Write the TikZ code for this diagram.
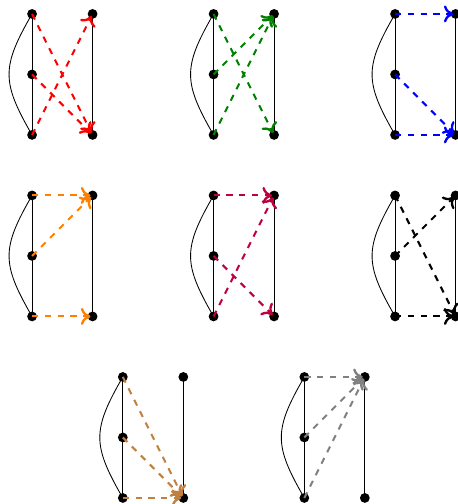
\documentclass[tikz,border=0pt]{standalone}
\usetikzlibrary{arrows.meta}
\begin{document}
\begin{tikzpicture}[
  dot/.style={circle,fill=black,inner sep=0pt,minimum size=4.6pt},
  arc/.style={line width=0.95pt,dashed,-{To[length=4.5pt,width=8pt,line width=1.1pt]},shorten >=1pt},
]
\useasboundingbox (-0.53,0.23) rectangle (7.03,-8.1);
\newcommand\mkpanel[3]{%
  \node[dot] (#1a) at (#2,#3) {};
  \node[dot] (#1b) at (#2,#3-1) {};
  \node[dot] (#1c) at (#2,#3-2) {};
  \node[dot] (#1d) at (#2+1,#3) {};
  \node[dot] (#1e) at (#2+1,#3-2) {};
  \draw (#1a.center) -- (#1b.center) -- (#1c.center);
  \draw (#1d.center) -- (#1e.center);
  \draw (#1a.center) to[bend right=30,looseness=1.3] (#1c.center);
}
\mkpanel{p}{0}{0}
\mkpanel{q}{3}{0}
\mkpanel{r}{6}{0}
\mkpanel{s}{0}{-3}
\mkpanel{t}{3}{-3}
\mkpanel{u}{6}{-3}
\mkpanel{v}{1.5}{-6}
\mkpanel{w}{4.5}{-6}
% panel 1 red
\draw[arc,red] (pa.center) -- (pe.center);
\draw[arc,red] (pb.center) -- (pe.center);
\draw[arc,red] (pc.center) -- (pd.center);
% panel 2 green
\draw[arc,green!50!black] (qa.center) -- (qe.center);
\draw[arc,green!50!black] (qb.center) -- (qd.center);
\draw[arc,green!50!black] (qc.center) -- (qd.center);
% panel 3 blue
\draw[arc,blue] (ra.center) -- (rd.center);
\draw[arc,blue] (rb.center) -- (re.center);
\draw[arc,blue] (rc.center) -- (re.center);
% panel 4 orange
\draw[arc,orange] (sa.center) -- (sd.center);
\draw[arc,orange] (sb.center) -- (sd.center);
\draw[arc,orange] (sc.center) -- (se.center);
% panel 5 purple
\draw[arc,purple] (ta.center) -- (td.center);
\draw[arc,purple] (tb.center) -- (te.center);
\draw[arc,purple] (tc.center) -- (td.center);
% panel 6 black
\draw[arc,black] (ua.center) -- (ue.center);
\draw[arc,black] (ub.center) -- (ud.center);
\draw[arc,black] (uc.center) -- (ue.center);
% panel 7 brown
\draw[arc,brown] (va.center) -- (ve.center);
\draw[arc,brown] (vb.center) -- (ve.center);
\draw[arc,brown] (vc.center) -- (ve.center);
% panel 8 gray
\draw[arc,gray] (wa.center) -- (wd.center);
\draw[arc,gray] (wb.center) -- (wd.center);
\draw[arc,gray] (wc.center) -- (wd.center);
\end{tikzpicture}
\end{document}
